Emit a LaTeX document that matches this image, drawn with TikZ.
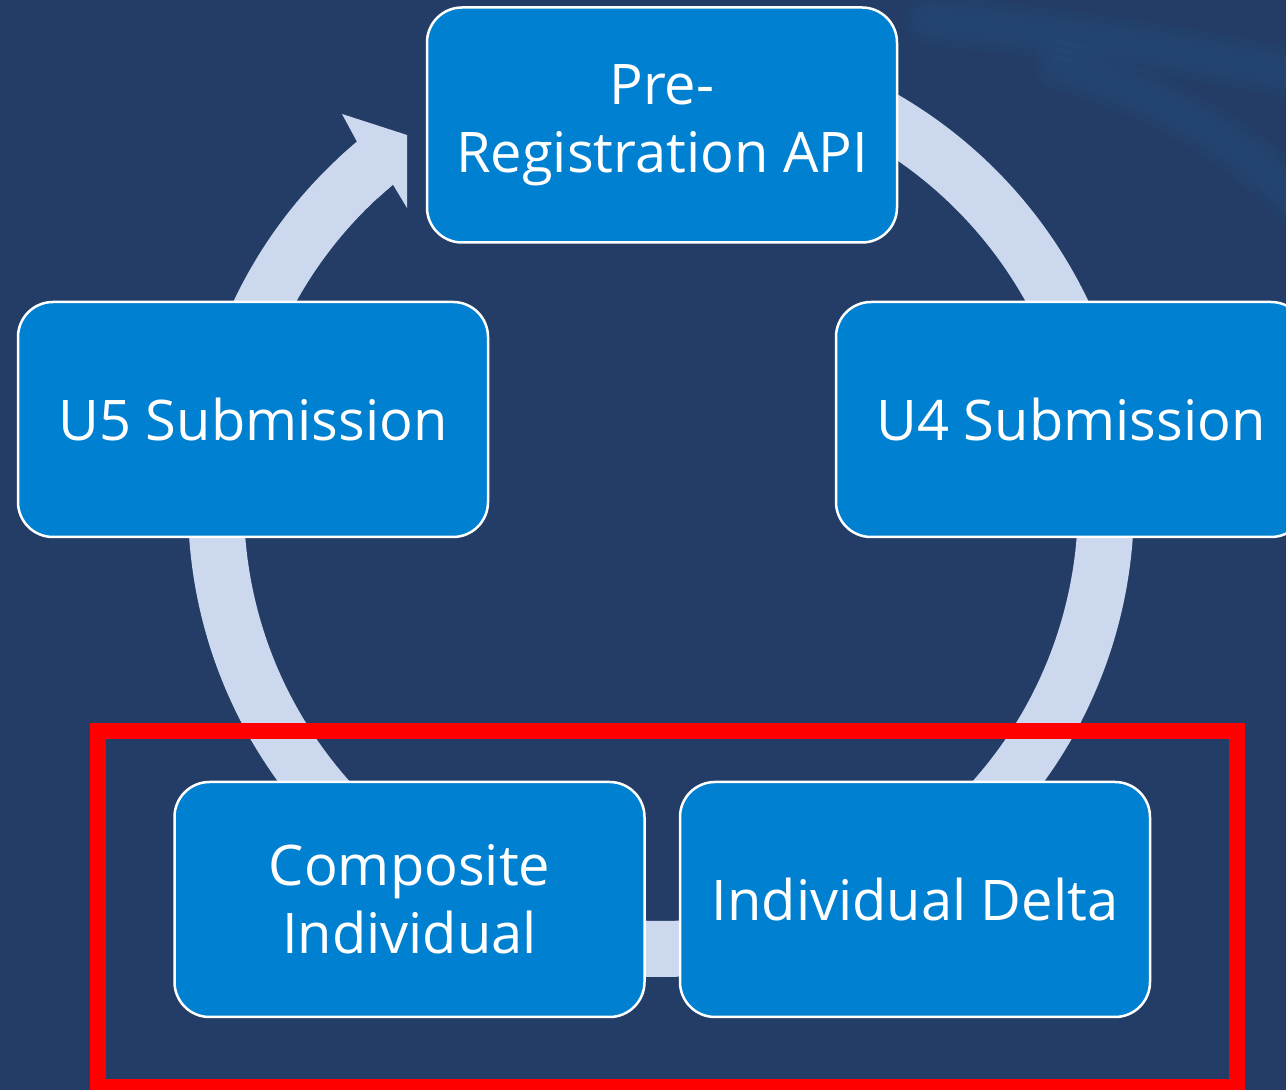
\documentclass[tikz,border=0pt]{standalone}
\usepackage{fontspec}
\setmainfont{Open Sans}
\definecolor{bgnavy}{HTML}{233D66}
\definecolor{boxblue}{HTML}{0080D0}
\definecolor{ringblue}{HTML}{CCD8EE}
\definecolor{streak}{HTML}{24507F}
\definecolor{framered}{HTML}{FF0000}
\begin{document}
\begin{tikzpicture}[x=1pt,y=1pt,
  stepbox/.style={draw=white, line width=2.5pt, fill=boxblue, rounded corners=35pt,
    minimum width=470pt, minimum height=235pt, text=white, align=center,
    font=\fontsize{56}{68}\selectfont, inner sep=0pt},
  ringline/.style={draw=ringblue, line width=56pt},
  faint/.style={draw=streak, line cap=round, opacity=0.18}]
\useasboundingbox (0,0) rectangle (1286,1090);
\clip (0,0) rectangle (1286,1090);
\fill[bgnavy] (0,0) rectangle (1286,1090);
% faint background streaks
\foreach \w in {50,34,20} {
  \draw[faint, line width=\w pt] (930,1070) .. controls (1050,1058) and (1180,1040) .. (1300,1015);
  \draw[faint, line width=\w pt] (1060,1025) .. controls (1160,995) and (1240,950) .. (1300,885);
}
% ring with arrow
\coordinate (c) at (661,586);
\draw[ringline] (c) ++(-230:445) arc[start angle=-230, end angle=75, radius=445];
\fill[ringblue] (338.4,931.9) -- (357,948.3) -- (342,976) -- (407,955) -- (407,882)
  -- (393,905.4) -- (376.6,891) -- cycle;
% boxes
\node[stepbox] (pre) at (662,965) {Pre-\\Registration API};
\node[stepbox] (u5) at (253,670.5) {U5 Submission};
\node[stepbox] (u4) at (1071,670.5) {U4 Submission};
\node[stepbox] (comp) at (409.5,190.5) {Composite\\Individual};
\node[stepbox] (delta) at (915,190.5) {Individual Delta};
% red frame
\draw[framered, line width=16pt] (98,358.7) rectangle (1236.7,2.7);
\end{tikzpicture}
\end{document}
